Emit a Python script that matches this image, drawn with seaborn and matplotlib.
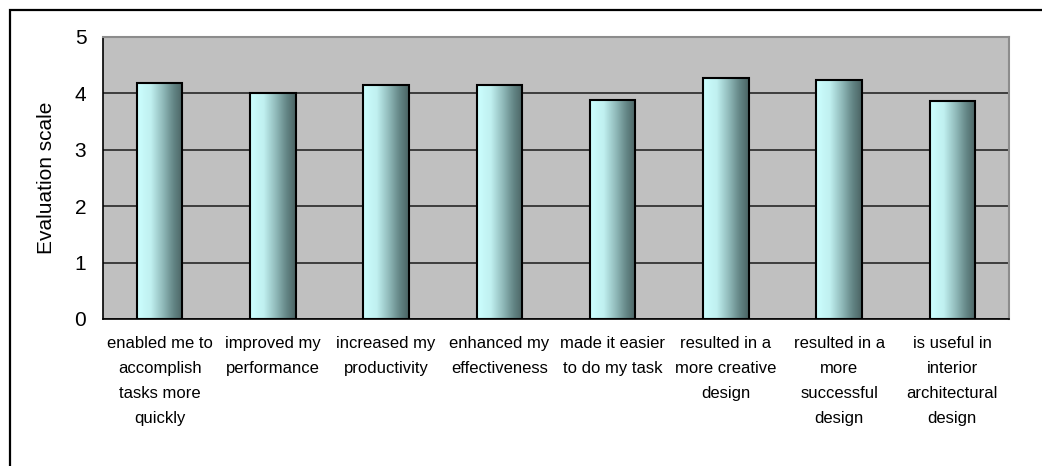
import numpy as np
import pandas as pd
import matplotlib
matplotlib.use("Agg")
import matplotlib.pyplot as plt
import seaborn as sns
from matplotlib.colors import LinearSegmentedColormap
from matplotlib.patches import Rectangle

# Datos
categorias = [
    "enabled me to\naccomplish\ntasks more\nquickly",
    "improved my\nperformance",
    "increased my\nproductivity",
    "enhanced my\neffectiveness",
    "made it easier\nto do my task",
    "resulted in a\nmore creative\ndesign",
    "resulted in a\nmore\nsuccessful\ndesign",
    "is useful in\ninterior\narchitectural\ndesign",
]
valores = [4.18, 4.00, 4.15, 4.15, 3.89, 4.27, 4.24, 3.86]

df = pd.DataFrame({"item": categorias, "score": valores})

sns.set_style("white")
plt.rcParams["font.family"] = ["Liberation Sans", "DejaVu Sans"]
plt.rcParams["text.color"] = "black"
plt.rcParams["axes.labelcolor"] = "black"
plt.rcParams["xtick.color"] = "black"
plt.rcParams["ytick.color"] = "black"

fig = plt.figure(figsize=(10.42, 4.66), dpi=100)
ax = fig.add_axes([103 / 1042, 1 - 319 / 466, 906 / 1042, 282 / 466])

ax.set_facecolor("#C0C0C0")
ax.set_axisbelow(True)
ax.yaxis.grid(True, color="#1a1a1a", linewidth=1.1)
ax.xaxis.grid(False)

sns.barplot(data=df, x="item", y="score", width=0.4, color="#CCFFFF",
            edgecolor="black", linewidth=1.5, ax=ax, zorder=3)

# Degradado horizontal dentro de cada barra
cmap = LinearSegmentedColormap.from_list(
    "teal", [(0.0, "#CCFFFF"), (0.3, "#C0F0F0"), (0.55, "#93BDBD"),
             (0.8, "#638585"), (1.0, "#4A6363")])
grad = np.linspace(0, 1, 256).reshape(1, -1)
for p in ax.patches:
    x0, y0 = p.get_x(), p.get_y()
    w, h = p.get_width(), p.get_height()
    im = ax.imshow(grad, cmap=cmap, aspect="auto", extent=[x0, x0 + w, y0, y0 + h],
                   zorder=3, interpolation="bilinear")
    im.set_clip_path(p)
    p.set_facecolor("none")
    p.set_zorder(4)

ax.set_xlim(-0.5, len(categorias) - 0.5)
ax.set_ylim(0, 5)
ax.set_yticks([0, 1, 2, 3, 4, 5])

ax.set_xticks(range(len(categorias)))
ax.set_xticklabels(categorias, fontsize=12, linespacing=1.85, multialignment="center")
ax.set_xticks(np.arange(-0.5, len(categorias), 1), minor=True)
ax.tick_params(axis="x", which="major", length=0, pad=12)
ax.tick_params(axis="x", which="minor", length=5, width=1, color="black", direction="out")
ax.tick_params(axis="y", length=5, width=1, color="black", direction="out", pad=7, labelsize=15)

ax.set_xlabel("")
ax.set_ylabel("Evaluation scale", fontsize=15)
ax.yaxis.set_label_coords((56 - 103) / 906, 0.5)

for side in ["left", "bottom"]:
    ax.spines[side].set_color("black")
    ax.spines[side].set_linewidth(1.2)
for side in ["top", "right"]:
    ax.spines[side].set_visible(True)
    ax.spines[side].set_color("#8c8c8c")
    ax.spines[side].set_linewidth(1.5)

# Borde exterior del grafico
fig.patches.append(Rectangle((10 / 1042, -0.05), 1.1, 1 - 10 / 466 + 0.05,
                             transform=fig.transFigure, fill=False,
                             edgecolor="black", linewidth=1.6))

fig.savefig("out.png", dpi=100)
